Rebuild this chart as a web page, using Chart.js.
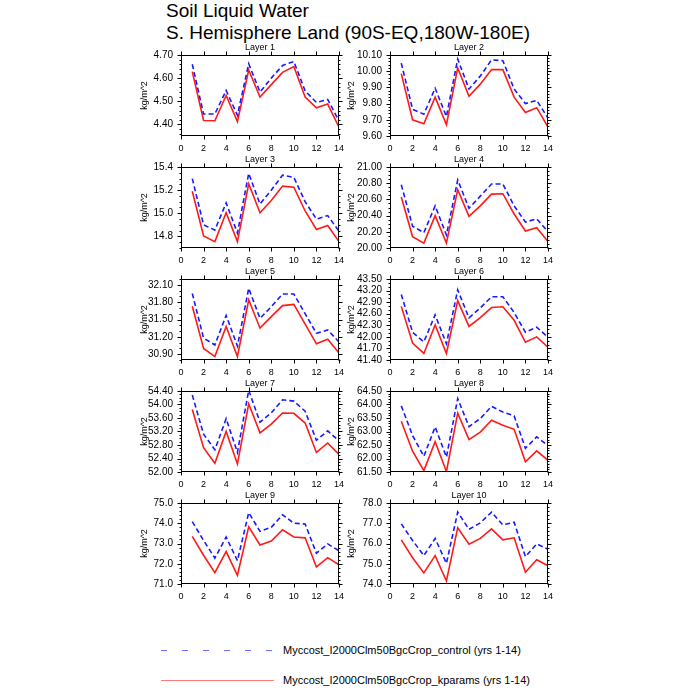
<!DOCTYPE html>
<html lang="en">
<head>
<meta charset="UTF-8">
<title>Soil Liquid Water</title>
<script src="https://cdn.jsdelivr.net/npm/chart.js"></script>
<style>
  * { margin: 0; padding: 0; box-sizing: border-box; }
  body {
    width: 700px; height: 700px; position: relative; overflow: hidden;
    background: #fff; color: #000;
    font-family: "Liberation Sans", Arial, sans-serif;
  }
  .title { position: absolute; left: 166px; top: 0; font-size: 19px; line-height: 22px; white-space: nowrap; }
  canvas { position: absolute; }
  .legtext { position: absolute; left: 283px; font-size: 11px; line-height: 14px; white-space: nowrap; }
  svg { position: absolute; left: 0; top: 0; }
</style>
</head>
<body>
<div class="title">Soil Liquid Water<br>S. Hemisphere Land (90S-EQ,180W-180E)</div>

<svg width="700" height="700">
  <line x1="161" y1="650.5" x2="274" y2="650.5" stroke="#6f6fff" stroke-width="1" stroke-dasharray="6,15"></line>
  <line x1="161" y1="680.5" x2="274" y2="680.5" stroke="#ff7a7a" stroke-width="1"></line>
</svg>
<div class="legtext" style="top:643px">Myccost_I2000Clm50BgcCrop_control (yrs 1-14)</div>
<div class="legtext" style="top:673px">Myccost_I2000Clm50BgcCrop_kparams (yrs 1-14)</div>

<script>
  // years on the x axis
  const years = [1, 2, 3, 4, 5, 6, 7, 8, 9, 10, 11, 12, 13, 14];
  const xTicks = [0, 2, 4, 6, 8, 10, 12, 14];

  // control run, one array per layer
  const control1 = [4.66, 4.445, 4.445, 4.547, 4.44, 4.662, 4.54, 4.60, 4.655, 4.672, 4.545, 4.495, 4.508, 4.415];
  const control2 = [10.05, 9.765, 9.735, 9.895, 9.72, 10.075, 9.89, 9.97, 10.07, 10.065, 9.89, 9.80, 9.82, 9.71];
  const control3 = [15.30, 14.90, 14.855, 15.09, 14.83, 15.345, 15.08, 15.20, 15.33, 15.31, 15.10, 14.95, 14.98, 14.845];
  const control4 = [20.78, 20.27, 20.19, 20.52, 20.16, 20.84, 20.49, 20.64, 20.79, 20.79, 20.52, 20.32, 20.36, 20.20];
  const control5 = [31.95, 31.18, 31.06, 31.57, 31.04, 32.04, 31.52, 31.72, 31.94, 31.94, 31.60, 31.26, 31.32, 31.11];
  const control6 = [43.10, 42.12, 41.87, 42.57, 41.82, 43.22, 42.49, 42.75, 43.04, 43.04, 42.63, 42.12, 42.25, 41.99];
  const control7 = [54.28, 53.12, 52.66, 53.58, 52.58, 54.42, 53.48, 53.75, 54.14, 54.10, 53.80, 52.94, 53.22, 52.92];
  const control8 = [63.95, 62.85, 62.08, 63.17, 62.05, 64.22, 63.18, 63.48, 63.93, 63.72, 63.58, 62.38, 62.80, 62.48];
  const control9 = [74.08, 73.15, 72.28, 73.32, 72.15, 74.52, 73.60, 73.80, 74.42, 74.00, 73.96, 72.52, 72.98, 72.64];
  const control10 = [76.97, 76.15, 75.40, 76.25, 75.02, 77.55, 76.70, 77.02, 77.55, 76.92, 77.05, 75.35, 75.98, 75.72];

  // kparams run
  const kparams1 = [4.628, 4.417, 4.416, 4.525, 4.412, 4.635, 4.518, 4.572, 4.625, 4.650, 4.518, 4.472, 4.488, 4.388];
  const kparams2 = [9.985, 9.70, 9.675, 9.84, 9.67, 10.02, 9.845, 9.92, 10.01, 10.01, 9.84, 9.745, 9.775, 9.655];
  const kparams3 = [15.19, 14.805, 14.755, 15.005, 14.755, 15.255, 15.005, 15.11, 15.235, 15.225, 15.02, 14.86, 14.895, 14.755];
  const kparams4 = [20.63, 20.14, 20.06, 20.40, 20.06, 20.72, 20.39, 20.52, 20.665, 20.67, 20.42, 20.21, 20.25, 20.08];
  const kparams5 = [31.73, 31.00, 30.86, 31.38, 30.86, 31.84, 31.35, 31.55, 31.74, 31.76, 31.42, 31.08, 31.16, 30.92];
  const kparams6 = [42.79, 41.84, 41.57, 42.31, 41.57, 42.94, 42.27, 42.50, 42.76, 42.78, 42.43, 41.86, 42.00, 41.73];
  const kparams7 = [53.85, 52.72, 52.26, 53.20, 52.24, 54.02, 53.16, 53.42, 53.75, 53.74, 53.45, 52.58, 52.86, 52.52];
  const kparams8 = [63.38, 62.27, 61.55, 62.62, 61.52, 63.68, 62.70, 62.98, 63.42, 63.23, 63.08, 61.88, 62.28, 61.93];
  const kparams9 = [73.35, 72.42, 71.56, 72.60, 71.43, 73.82, 72.93, 73.12, 73.68, 73.32, 73.28, 71.84, 72.30, 71.95];
  const kparams10 = [76.18, 75.30, 74.55, 75.40, 74.15, 76.78, 75.96, 76.25, 76.72, 76.18, 76.28, 74.58, 75.20, 74.90];

  // y axis ranges and tick marks per layer
  const yLimits = [[4.35, 4.70], [9.60, 10.10], [14.70, 15.40], [20.00, 21.00], [30.80, 32.20],
                   [41.40, 43.50], [52.00, 54.40], [61.50, 64.50], [71.0, 75.0], [74.0, 78.0]];
  const yMajor = [
    [4.40, 4.50, 4.60, 4.70],
    [9.60, 9.70, 9.80, 9.90, 10.00, 10.10],
    [14.8, 15.0, 15.2, 15.4],
    [20.00, 20.20, 20.40, 20.60, 20.80, 21.00],
    [30.90, 31.20, 31.50, 31.80, 32.10],
    [41.40, 41.70, 42.00, 42.30, 42.60, 42.90, 43.20, 43.50],
    [52.00, 52.40, 52.80, 53.20, 53.60, 54.00, 54.40],
    [61.50, 62.00, 62.50, 63.00, 63.50, 64.00, 64.50],
    [71.0, 72.0, 73.0, 74.0, 75.0],
    [74.0, 75.0, 76.0, 77.0, 78.0]
  ];
  const yMinorStep = [0.02, 0.02, 0.05, 0.05, 0.1, 0.1, 0.1, 0.1, 0.2, 0.2];
  const yDecimals = [2, 2, 1, 2, 2, 2, 2, 2, 1, 1];

  const controls = [control1, control2, control3, control4, control5, control6, control7, control8, control9, control10];
  const kparams = [kparams1, kparams2, kparams3, kparams4, kparams5, kparams6, kparams7, kparams8, kparams9, kparams10];

  // frame, outward ticks on all four sides, panel title
  const framePlugin = {
    id: 'frame',
    afterDraw(chart, args, opts) {
      const {ctx, chartArea: a, scales: {x, y}} = chart;
      const L = a.left + 0.5, R = a.right - 0.5, T = a.top + 0.5, B = a.bottom - 0.5;
      ctx.save();
      ctx.strokeStyle = '#000';
      ctx.lineWidth = 1;
      ctx.strokeRect(L, T, R - L, B - T);
      ctx.beginPath();
      xTicks.forEach(v => {
        const px = Math.round(x.getPixelForValue(v)) + 0.5;
        ctx.moveTo(px, B); ctx.lineTo(px, B + 4);
        ctx.moveTo(px, T); ctx.lineTo(px, T - 4);
      });
      opts.major.forEach(v => {
        const py = Math.round(y.getPixelForValue(v)) + 0.5;
        ctx.moveTo(L, py); ctx.lineTo(L - 4, py);
        ctx.moveTo(R, py); ctx.lineTo(R + 4, py);
      });
      const lo = y.min, hi = y.max;
      for (let k = Math.ceil(lo / opts.minor - 1e-6); k * opts.minor <= hi + 1e-6; k++) {
        const v = k * opts.minor;
        if (opts.major.some(m => Math.abs(m - v) < 1e-6)) continue;
        const py = Math.round(y.getPixelForValue(v)) + 0.5;
        ctx.moveTo(L, py); ctx.lineTo(L - 2, py);
        ctx.moveTo(R, py); ctx.lineTo(R + 2, py);
      }
      ctx.stroke();
      ctx.fillStyle = '#000';
      ctx.font = '9px "Liberation Sans", Arial, sans-serif';
      ctx.textAlign = 'center';
      ctx.textBaseline = 'alphabetic';
      ctx.fillText(opts.title, (a.left + a.right) / 2, a.top - 5);
      ctx.restore();
    }
  };

  for (let i = 0; i < 10; i++) {
    const col = i % 2, row = Math.floor(i / 2);
    const plotLeft = col === 0 ? 181 : 390;
    const plotTop = 55 + row * 112;
    const cv = document.createElement('canvas');
    cv.width = 220; cv.height = 116;
    cv.style.left = (plotLeft - 50) + 'px';
    cv.style.top = (plotTop - 15) + 'px';
    document.body.appendChild(cv);

    new Chart(cv, {
      type: 'line',
      data: {
        datasets: [
          {
            data: years.map((yr, j) => ({x: yr, y: controls[i][j]})),
            borderColor: '#1a1aff', borderWidth: 1.6, borderDash: [5, 3],
            pointRadius: 0, tension: 0, fill: false
          },
          {
            data: years.map((yr, j) => ({x: yr, y: kparams[i][j]})),
            borderColor: '#ff1a1a', borderWidth: 1.6,
            pointRadius: 0, tension: 0, fill: false
          }
        ]
      },
      options: {
        responsive: false,
        animation: false,
        devicePixelRatio: 1,
        layout: {padding: {top: 15, right: 8, left: 0, bottom: 0}},
        plugins: {
          legend: {display: false},
          tooltip: {enabled: false},
          frame: {title: 'Layer ' + (i + 1), major: yMajor[i], minor: yMinorStep[i]}
        },
        scales: {
          x: {
            type: 'linear', min: 0, max: 14,
            grid: {display: false, drawTicks: false},
            border: {display: false},
            ticks: {stepSize: 2, padding: 7, color: '#000', maxRotation: 0, autoSkip: false,
                    font: {family: '"Liberation Sans", Arial, sans-serif', size: 9}},
            afterFit: s => { s.height = 20; }
          },
          y: {
            min: yLimits[i][0], max: yLimits[i][1],
            grid: {display: false, drawTicks: false},
            border: {display: false},
            ticks: {padding: 8, color: '#000', autoSkip: false,
                    font: {family: '"Liberation Sans", Arial, sans-serif', size: 10},
                    callback: v => Number(v).toFixed(yDecimals[i])},
            afterBuildTicks: s => { s.ticks = yMajor[i].map(v => ({value: v})); },
            title: {display: true, text: 'kg/m^2', color: '#000',
                    font: {family: '"Liberation Sans", Arial, sans-serif', size: 9},
                    padding: {top: col === 0 ? 8.6 : 6.3, bottom: 0}},
            afterFit: s => { s.width = 50; }
          }
        }
      },
      plugins: [framePlugin]
    });
  }
</script>
</body>
</html>
